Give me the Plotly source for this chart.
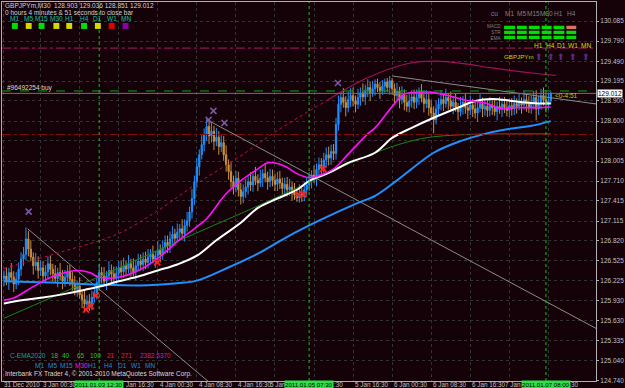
import plotly.graph_objects as go

# ---------------- data (bar index 0 = 31 Dec 2010, M30 bars) ----------------
bar_index = list(range(225))
opens = [126.26,126.30,126.22,126.35,126.28,126.18,126.25,126.40,126.55,126.62,
 126.85,126.70,126.58,126.45,126.50,126.38,126.42,126.30,126.36,126.48,
 126.40,126.33,126.26,126.35,126.30,126.22,126.28,126.36,126.25,126.18,
 126.10,126.15,126.02,125.95,125.88,125.92,125.85,125.98,126.05,126.20,
 126.35,126.30,126.22,126.30,126.38,126.33,126.26,126.34,126.42,126.36,
 126.45,126.40,126.48,126.42,126.36,126.45,126.52,126.47,126.55,126.50,
 126.58,126.62,126.55,126.60,126.68,126.62,126.72,126.80,126.74,126.85,
 126.92,126.86,126.95,127.00,126.93,127.05,127.12,127.25,127.45,127.70,
 127.92,128.10,128.25,128.40,128.52,128.38,128.45,128.30,128.36,128.22,
 128.28,128.10,127.95,127.85,127.70,127.62,127.75,127.58,127.48,127.55,
 127.62,127.70,127.65,127.78,127.72,127.68,127.75,127.82,127.76,127.70,
 127.78,127.72,127.66,127.74,127.68,127.60,127.66,127.58,127.62,127.55,
 127.50,127.46,127.52,127.48,127.58,127.65,127.72,127.80,127.75,127.88,
 127.95,127.90,128.02,128.10,128.05,128.15,128.12,128.55,128.85,128.95,
 128.88,128.80,128.92,128.98,128.90,128.85,128.95,129.02,128.96,129.05,
 129.10,129.02,129.08,129.15,129.10,129.05,129.12,129.18,129.10,129.20,
 129.08,128.98,129.04,128.92,128.98,128.88,128.82,128.90,128.96,128.88,
 128.95,129.02,128.94,128.86,128.92,128.80,128.72,128.62,128.78,128.85,
 128.92,128.86,128.95,128.90,128.82,128.88,128.80,128.74,128.82,128.88,
 128.80,128.76,128.84,128.78,128.72,128.80,128.86,128.78,128.82,128.76,
 128.84,128.80,128.74,128.82,128.78,128.85,128.80,128.76,128.83,128.78,
 128.86,128.82,128.88,128.84,128.92,128.86,128.80,128.88,128.95,128.78,
 128.86,128.98,128.92,128.85,128.903]
highs = [126.38,126.43,126.42,126.49,126.37,126.36,126.50,126.65,126.73,127.02,
 126.97,126.83,126.65,126.64,126.59,126.53,126.52,126.46,126.59,126.60,
 126.48,126.46,126.42,126.49,126.39,126.39,126.46,126.46,126.36,126.30,
 126.23,126.28,126.09,126.09,126.01,126.03,126.08,126.15,126.31,126.48,
 126.43,126.43,126.37,126.52,126.47,126.44,126.44,126.52,126.53,126.57,
 126.53,126.61,126.55,126.56,126.54,126.63,126.62,126.65,126.66,126.70,
 126.70,126.75,126.67,126.82,126.77,126.83,126.90,126.90,126.96,127.04,
 127.00,127.08,127.07,127.14,127.14,127.25,127.33,127.59,127.79,128.05,
 128.18,128.39,128.49,128.63,128.60,128.58,128.53,128.50,128.45,128.39,
 128.38,128.24,128.03,127.99,127.79,127.86,127.85,127.68,127.66,127.74,
 127.78,127.84,127.85,127.92,127.81,127.88,127.89,127.96,127.85,127.89,
 127.88,127.82,127.85,127.86,127.76,127.76,127.77,127.74,127.70,127.68,
 127.58,127.66,127.61,127.69,127.76,127.84,127.87,127.94,127.97,128.06,
 128.05,128.13,128.21,128.22,128.25,128.26,128.65,128.98,129.04,129.09,
 128.97,129.04,129.09,129.10,128.98,129.08,129.10,129.16,129.14,129.22,
 129.18,129.20,129.22,129.23,129.18,129.21,129.23,129.24,129.27,129.24,
 129.16,129.17,129.11,129.12,129.07,128.99,129.00,129.06,129.07,129.07,
 129.10,129.15,129.01,129.06,129.01,128.91,128.82,128.90,128.94,129.06,
 129.00,129.08,129.02,129.04,128.97,129.01,128.87,128.96,128.97,129.01,
 128.87,128.98,128.93,128.89,128.88,129.00,128.95,128.92,128.93,128.96,
 128.92,128.93,128.89,128.96,128.94,128.96,128.90,128.93,128.94,128.98,
 128.94,129.01,128.95,129.06,129.01,128.97,128.98,129.05,129.06,128.98,
 129.08,129.10,129.01,129.01,129.036]
lows = [126.15,126.16,126.09,126.21,126.06,126.10,126.16,126.30,126.45,126.53,
 126.59,126.52,126.32,126.38,126.26,126.30,126.21,126.20,126.26,126.31,
 126.22,126.20,126.13,126.23,126.10,126.14,126.19,126.15,126.08,126.01,
 125.99,125.96,125.82,125.78,125.79,125.78,125.79,125.90,125.95,126.11,
 126.19,126.16,126.09,126.23,126.21,126.18,126.17,126.24,126.26,126.27,
 126.29,126.34,126.29,126.29,126.24,126.37,126.38,126.37,126.40,126.41,
 126.47,126.49,126.42,126.53,126.50,126.54,126.63,126.64,126.64,126.76,
 126.75,126.80,126.82,126.86,126.81,126.96,127.03,127.15,127.35,127.61,
 127.79,128.03,128.15,128.31,128.26,128.28,128.17,128.23,128.10,128.14,
 128.01,127.85,127.73,127.61,127.51,127.54,127.48,127.36,127.38,127.46,
 127.51,127.56,127.55,127.65,127.56,127.62,127.62,127.69,127.58,127.62,
 127.63,127.56,127.56,127.59,127.51,127.50,127.48,127.49,127.42,127.43,
 127.40,127.39,127.40,127.41,127.49,127.56,127.60,127.68,127.63,127.79,
 127.77,127.83,127.91,127.94,127.95,128.02,128.03,128.46,128.73,128.80,
 128.67,128.73,128.81,128.82,128.73,128.78,128.83,128.89,128.84,128.96,
 128.90,128.96,128.98,129.03,128.93,128.99,129.02,129.03,128.99,128.99,
 128.87,128.91,128.79,128.85,128.76,128.74,128.73,128.80,128.78,128.79,
 128.84,128.88,128.73,128.79,128.68,128.64,128.42,128.55,128.68,128.76,
 128.75,128.80,128.77,128.75,128.70,128.74,128.61,128.67,128.70,128.71,
 128.63,128.69,128.66,128.64,128.59,128.73,128.66,128.68,128.66,128.67,
 128.69,128.68,128.61,128.71,128.66,128.72,128.67,128.66,128.68,128.69,
 128.71,128.76,128.71,128.77,128.74,128.72,128.71,128.78,128.61,128.69,
 128.77,128.83,128.73,128.77,128.851]
closes = [126.30,126.22,126.35,126.28,126.18,126.25,126.40,126.55,126.62,126.85,
 126.70,126.58,126.45,126.50,126.38,126.42,126.30,126.36,126.48,126.40,
 126.33,126.26,126.35,126.30,126.22,126.28,126.36,126.25,126.18,126.10,
 126.15,126.02,125.95,125.88,125.92,125.85,125.98,126.05,126.20,126.35,
 126.30,126.22,126.30,126.38,126.33,126.26,126.34,126.42,126.36,126.45,
 126.40,126.48,126.42,126.36,126.45,126.52,126.47,126.55,126.50,126.58,
 126.62,126.55,126.60,126.68,126.62,126.72,126.80,126.74,126.85,126.92,
 126.86,126.95,127.00,126.93,127.05,127.12,127.25,127.45,127.70,127.92,
 128.10,128.25,128.40,128.52,128.38,128.45,128.30,128.36,128.22,128.28,
 128.10,127.95,127.85,127.70,127.62,127.75,127.58,127.48,127.55,127.62,
 127.70,127.65,127.78,127.72,127.68,127.75,127.82,127.76,127.70,127.78,
 127.72,127.66,127.74,127.68,127.60,127.66,127.58,127.62,127.55,127.50,
 127.46,127.52,127.48,127.58,127.65,127.72,127.80,127.75,127.88,127.95,
 127.90,128.02,128.10,128.05,128.15,128.12,128.55,128.85,128.95,128.88,
 128.80,128.92,128.98,128.90,128.85,128.95,129.02,128.96,129.05,129.10,
 129.02,129.08,129.15,129.10,129.05,129.12,129.18,129.10,129.20,129.08,
 128.98,129.04,128.92,128.98,128.88,128.82,128.90,128.96,128.88,128.95,
 129.02,128.94,128.86,128.92,128.80,128.72,128.62,128.78,128.85,128.92,
 128.86,128.95,128.90,128.82,128.88,128.80,128.74,128.82,128.88,128.80,
 128.76,128.84,128.78,128.72,128.80,128.86,128.78,128.82,128.76,128.84,
 128.80,128.74,128.82,128.78,128.85,128.80,128.76,128.83,128.78,128.86,
 128.82,128.88,128.84,128.92,128.86,128.80,128.88,128.95,128.78,128.86,
 128.98,128.92,128.85,128.90,129.012]

# moving averages (bar index, price)
ma_fast_bars   = [0,4,12,20,30,35,39,47,55,63,71,79,83,91,98,104,108,112,116,120,125,129,135,141,149,152,160,164,171,175,183,189,197,204,208,218,224]
ma_fast_prices = [125.94,125.97,126.14,126.29,126.38,126.35,126.28,126.28,126.38,126.56,126.81,127.03,127.15,127.52,127.74,127.89,127.98,127.97,127.91,127.82,127.76,127.79,127.89,128.11,128.41,128.50,128.86,129.00,129.03,129.03,128.97,128.91,128.87,128.78,128.80,128.80,128.81]
ma_mid_bars    = [0,8,16,26,34,39,47,55,63,71,79,87,97,104,112,120,125,133,141,152,159,167,176,186,193,200,208,216,224]
ma_mid_prices  = [125.89,125.94,125.98,126.04,126.10,126.14,126.22,126.29,126.38,126.47,126.60,126.83,127.09,127.31,127.45,127.58,127.71,127.83,127.98,128.13,128.35,128.50,128.65,128.80,128.90,128.93,128.90,128.87,128.86]
ma_slow_bars   = [0,20,39,59,71,79,91,104,116,129,144,152,161,176,186,197,208,216,224]
ma_slow_prices = [126.22,126.20,126.17,126.16,126.19,126.23,126.41,126.63,126.88,127.12,127.37,127.49,127.72,128.13,128.29,128.41,128.49,128.53,128.60]
ma_long_bars   = [0,39,79,104,125,152,171,189,208,224]
ma_long_prices = [125.67,126.29,126.94,127.34,127.69,128.13,128.34,128.40,128.41,128.41]
env_dot_bars   = [0,23,47,63,79,96,112,132]
env_dot_prices = [126.41,126.65,126.93,127.27,127.67,128.06,128.46,128.90]
env_sol_bars   = [132,148,166,177,189,200,220,226]
env_sol_prices = [128.90,129.23,129.46,129.49,129.45,129.39,129.30,129.28]

trend_a_bars, trend_a_prices = [9.7, 86.0], [127.00, 124.66]
trend_b_bars, trend_b_prices = [84.2, 242.5], [128.60, 125.52]
trend_c_bars, trend_c_prices = [159.1, 242.5], [129.27, 128.855]

x_purple_bars   = [10.1, 83.8, 85.8, 90.3, 136.8]
x_purple_prices = [127.255, 128.618, 128.752, 128.574, 129.167]
x_red_bars      = [33.6, 35.6, 37.7, 62.8, 120.6, 122.7, 130.8]
x_red_prices    = [125.80, 125.85, 126.01, 126.50, 127.51, 127.51, 127.89]

price_ticks = [130.085,129.790,129.490,129.195,128.900,128.600,128.305,128.005,127.710,
               127.415,127.115,126.820,126.525,126.225,125.930,125.630,125.335,125.040,124.740]
grid_bars = [0,15,31,47,63,79,95,111,127,143,159,175,191,207,223]
# time labels as they are visible (parts hidden behind the vertical-line boxes are left out)
time_label_bars   = [0, 15, 47, 63, 79, 95, 111, 127, 143, 159, 175, 191, 207, 223]
time_label_texts  = ["31 Dec 2010","3 Jan 00:30","Jan 16:30","4 Jan 00:30","4 Jan 08:30","4 Jan 16:30",
                     "5 Jan",":30","5 Jan 16:30","6 Jan 00:30","6 Jan 08:30","6 Jan 16:30","7 Jan","30"]
time_label_shift  = [-2, 0, 5, 0, 0, 0, -7, 18, 0, 0, 0, 0, -6, 21]
vline_bars = [39, 125, 222]
vline_labels = ["2011.01.03 12:30", "2011.01.05 07:30", "2011.01.07 08:00"]
bid_price = 129.012
order_price = 129.048
level_upper = 129.685
level_lower = 128.400

# ---------------- styling ----------------
W, H = 625, 388
L, R, T, B = 2, 22, 1, 7
BG = "#150209"
FONT = "Liberation Sans"
FS = 6.5

def P(px, py):
    return (px - L) / (W - L - R), (H - B - py) / (H - T - B)

fig = go.Figure()
fig.add_trace(go.Candlestick(
    x=bar_index, open=opens, high=highs, low=lows, close=closes,
    increasing=dict(line=dict(color="#1e90ff", width=1), fillcolor="#1e90ff"),
    decreasing=dict(line=dict(color="#c8903c", width=1), fillcolor="#c8903c"),
    whiskerwidth=0, hoverinfo="skip"))

def line(xs, ys, color, width, dash="solid", shape="spline"):
    fig.add_trace(go.Scatter(x=xs, y=ys, mode="lines", line=dict(color=color, width=width, dash=dash, shape=shape),
                             hoverinfo="skip"))

line(trend_a_bars, trend_a_prices, "#8a8a8a", 1, shape="linear")
line(trend_b_bars, trend_b_prices, "#8a8a8a", 1, shape="linear")
line(trend_c_bars, trend_c_prices, "#8a8a8a", 1, shape="linear")
line(env_dot_bars, env_dot_prices, "#c0104a", 1, dash="dot")
line(env_sol_bars, env_sol_prices, "#a0105a", 1.2)
line(ma_long_bars, ma_long_prices, "#108a10", 1)
line(ma_slow_bars, ma_slow_prices, "#1e90ff", 2)
line(ma_mid_bars, ma_mid_prices, "#ffffff", 2)
line(ma_fast_bars, ma_fast_prices, "#ff10ff", 1.6)

fig.add_trace(go.Scatter(x=x_purple_bars, y=x_purple_prices, mode="markers",
    marker=dict(symbol="x-thin", size=6, line=dict(color="#7a5aa8", width=1.5)), hoverinfo="skip"))
fig.add_trace(go.Scatter(x=x_red_bars, y=x_red_prices, mode="markers",
    marker=dict(symbol="x-thin", size=6, line=dict(color="#ff2020", width=1.8)), hoverinfo="skip"))

ann = []
shapes = []
def txt(px, py, s, color="#d0d0d0", size=FS, anchor="left", bg=None, align="left"):
    x, y = P(px, py)
    d = dict(x=x, y=y, xref="paper", yref="paper", text=s, showarrow=False, xanchor=anchor, align=align,
             yanchor="middle", font=dict(family=FONT, size=size, color=color))
    if bg:
        d.update(bgcolor=bg, borderpad=0)
    ann.append(d)

# horizontal levels and vertical lines
shapes.append(dict(type="line", xref="paper", yref="y", x0=0, x1=1, y0=level_upper, y1=level_upper,
                   line=dict(color="#a02060", width=1, dash="dashdot")))
shapes.append(dict(type="line", xref="paper", yref="y", x0=0, x1=1, y0=order_price, y1=order_price,
                   line=dict(color="#10a010", width=1, dash="dash")))
shapes.append(dict(type="line", xref="paper", yref="y", x0=0, x1=1, y0=bid_price, y1=bid_price,
                   line=dict(color="#707070", width=1)))
shapes.append(dict(type="line", xref="paper", yref="y", x0=0, x1=1, y0=level_lower, y1=level_lower,
                   line=dict(color="#801010", width=1, dash="dashdot")))
for vb in vline_bars:
    shapes.append(dict(type="line", xref="x", yref="paper", x0=vb, x1=vb, y0=0, y1=1,
                       line=dict(color="#10c010", width=1, dash="dot")))

# time axis labels
for b, s, sh in zip(time_label_bars, time_label_texts, time_label_shift):
    ann.append(dict(x=b, y=P(0, 384.5)[1], xref="x", yref="paper", text=s, showarrow=False, xshift=sh,
                    xanchor="left", yanchor="middle", font=dict(family=FONT, size=6.3, color="#c0c0c0")))
for b, s in zip(vline_bars, vline_labels):
    ann.append(dict(x=b, y=P(0, 384.5)[1], xref="x", yref="paper", text=s, showarrow=False,
                    xanchor="center", yanchor="middle", bgcolor="#2ee04a", borderpad=0,
                    font=dict(family=FONT, size=6.1, color="#000000")))
# bid price box on axis
ann.append(dict(x=1.0, y=bid_price, xref="paper", yref="y", text=f"{bid_price:.3f}", showarrow=False,
                xanchor="left", yanchor="middle", xshift=1, bgcolor="#ffffff", borderpad=0,
                font=dict(family=FONT, size=FS, color="#000000")))

# top-left info
txt(3, 4.5, "GBPJPYm,M30  128.903 129.036 128.851 129.012")
txt(3, 11.5, "0 hours 4 minutes & 51 seconds to close bar")
tf_labels = ["M1","M5","M15","M30","H1","H4","D1","W1","MN"]
tf_x = [15, 29, 42, 57, 70, 85, 99, 113, 127]
tf_colors = ["#00e000","#d8d800","#00e000","#d8d800","#d8d800","#00e000","#d8d800","#e00000","#8a00a8"]
for s, x in zip(tf_labels, tf_x):
    txt(x, 17.5, s, color="#10c0a0", anchor="center")
for x, c in zip(tf_x, tf_colors):
    x0, y0 = P(x - 3, 28)
    x1, y1 = P(x + 3, 22)
    shapes.append(dict(type="rect", xref="paper", yref="paper", x0=x0, x1=x1, y0=y0, y1=y1,
                       fillcolor=c, line=dict(width=0), layer="above"))

# top-right panel
for s, x in zip(["cu","M1","M5","M15","M30","H1","H4"], [500,515,528,540,553,565,578]):
    txt(x, 13, s, color="#808080", anchor="center")
txt(508.5, 31.5, "MACD<br>STR<br>EMA", color="#808080", size=4.6, anchor="right", align="right")
cols = [(510,521),(523,533),(535,546),(548,558),(560,571),(573,583)]
for ri, y in enumerate([26.5, 31.5, 36.5]):
    for ci, (xa, xb) in enumerate(cols):
        c = "#e07060" if (ri == 0 and ci == 5) else "#00dd00"
        x0, y0 = P(xa, y + 1.7)
        x1, y1 = P(xb, y - 1.7)
        shapes.append(dict(type="rect", xref="paper", yref="paper", x0=x0, x1=x1, y0=y0, y1=y1,
                           fillcolor=c, line=dict(width=0), layer="above"))
for s, x in zip(["H1","H4","D1","W1","MN"], [545,557,568,580,593]):
    txt(x, 45, s, color="#d8d800", anchor="center")
    txt(x, 56, "⬆", color="#5a2a90", size=8.5, anchor="center")
txt(508, 56, "GBPJPYm", color="#d0d000", size=6.2)
txt(5, 87, "#96492254 buy", color="#d8d8d8")
txt(559, 95, "<0-4:51", color="#c8c800")

# bottom-left info
txt(8, 355, "C-EMA2020", color="#10a0a0")
for s, x in zip(["18","40","65","100"], [50,61,76,89]):
    txt(x, 355, s, color="#20c020")
for s, x in zip(["21","271"], [106,120]):
    txt(x, 355, s, color="#e02050")
txt(140, 355, "2382.5370", color="#c020b0")
for s, x, c in zip(tf_labels, [33,47,59,74,87,103,117,130,145],
                   ["#1a90d0"]*3 + ["#e020e0"] + ["#1a90d0"]*5):
    txt(x, 365, s, color=c)
txt(3, 374, "Interbank FX Trader 4, © 2001-2010 MetaQuotes Software Corp.", color="#d8d8d8")

fig.update_layout(
    width=W, height=H, margin=dict(l=L, r=R, t=T, b=B),
    paper_bgcolor=BG, plot_bgcolor=BG, showlegend=False, hovermode=False,
    annotations=ann, shapes=shapes,
    xaxis=dict(range=[-0.81, 242.5], rangeslider=dict(visible=False), showticklabels=False,
               tickvals=grid_bars, showgrid=True, gridcolor="#333333", griddash="dot", gridwidth=1,
               zeroline=False, showline=True, linecolor="#b0b0b0", linewidth=1, mirror=True, ticks=""),
    yaxis=dict(range=[124.738, 130.37], side="right", tickvals=price_ticks,
               ticktext=[f"{v:.3f}" for v in price_ticks], tickfont=dict(family=FONT, size=FS, color="#c0c0c0"),
               ticks="outside", ticklen=2, tickcolor="#b0b0b0", showgrid=True, gridcolor="#333333",
               griddash="dot", zeroline=False, showline=True, linecolor="#b0b0b0", linewidth=1, mirror=True),
)
fig.write_html("out.html")
